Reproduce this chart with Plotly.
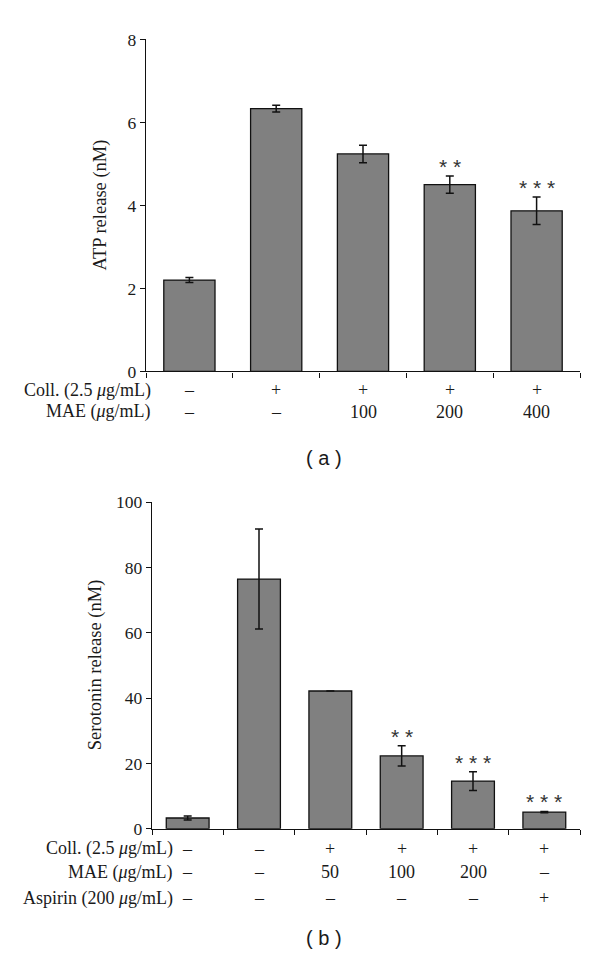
import plotly.graph_objects as go

# ---------------- data ----------------
# Panel (a)
a_values = [2.20, 6.33, 5.24, 4.50, 3.87]
a_errors = [0.06, 0.08, 0.21, 0.21, 0.33]
a_stars = ["", "", "", "* *", "* * *"]
a_coll = ["–", "+", "+", "+", "+"]
a_mae = ["–", "–", "100", "200", "400"]
a_yticks = [0, 2, 4, 6, 8]

# Panel (b)
b_values = [3.3, 76.5, 42.2, 22.3, 14.6, 5.1]
b_errors = [0.6, 15.3, 0.0, 3.1, 2.85, 0.2]
b_stars = ["", "", "", "* *", "* * *", "* * *"]
b_coll = ["–", "–", "+", "+", "+", "+"]
b_mae = ["–", "–", "50", "100", "200", "–"]
b_asp = ["–", "–", "–", "–", "–", "+"]
b_yticks = [0, 20, 40, 60, 80, 100]

SERIF = "Liberation Serif"
SANS = "Liberation Sans"
TXT = "#1a1a1a"
W, H = 600, 970


def py(px):
    return 1 - px / H


def pxx(px):
    return px / W


fig = go.Figure()

fig.add_trace(go.Bar(
    x=list(range(len(a_values))), y=a_values,
    error_y=dict(type="data", array=a_errors, visible=True, color="#111", thickness=1.5, width=4),
    marker=dict(color="#808080", line=dict(color="#111", width=1.3)),
    width=0.59, xaxis="x", yaxis="y", showlegend=False, hoverinfo="skip"))

fig.add_trace(go.Bar(
    x=list(range(len(b_values))), y=b_values,
    error_y=dict(type="data", array=b_errors, visible=True, color="#111", thickness=1.5, width=4),
    marker=dict(color="#808080", line=dict(color="#111", width=1.3)),
    width=0.6, xaxis="x2", yaxis="y2", showlegend=False, hoverinfo="skip"))

axis_common = dict(showgrid=False, zeroline=False, showline=True, linecolor="#111", linewidth=1.3,
                   ticks="outside", ticklen=5, tickwidth=1.3, tickcolor="#111",
                   tickfont=dict(family=SERIF, size=17.5, color=TXT))

fig.update_layout(
    width=W, height=H, margin=dict(l=0, r=0, t=0, b=0),
    paper_bgcolor="white", plot_bgcolor="white",
    xaxis=dict(domain=[pxx(146), pxx(580)], range=[-0.5, 4.5], anchor="y",
               tickvals=[-0.5, 0.5, 1.5, 2.5, 3.5, 4.5], ticktext=[""] * 6, **axis_common),
    yaxis=dict(domain=[py(369), py(30)], range=[0, 8], anchor="x",
               tickvals=a_yticks, **axis_common),
    xaxis2=dict(domain=[pxx(152), pxx(580)], range=[-0.5, 5.5], anchor="y2",
                tickvals=[-0.5, 0.5, 1.5, 2.5, 3.5, 4.5, 5.5], ticktext=[""] * 7, **axis_common),
    yaxis2=dict(domain=[py(836), py(502.7)], range=[0, 100], anchor="x2",
                tickvals=b_yticks, **axis_common),
)

ann = []
# y-axis titles
ann.append(dict(text="ATP release (nM)", x=pxx(100), y=py(199.5), xref="paper", yref="paper",
                textangle=-90, showarrow=False, xanchor="center", yanchor="middle",
                font=dict(family=SERIF, size=18.5, color=TXT)))
ann.append(dict(text="Serotonin release (nM)", x=pxx(95), y=py(669), xref="paper", yref="paper",
                textangle=-90, showarrow=False, xanchor="center", yanchor="middle",
                font=dict(family=SERIF, size=18.5, color=TXT)))

# significance stars
for i, s in enumerate(a_stars):
    if s:
        ann.append(dict(text=s, x=i, y=a_values[i] + a_errors[i], xref="x", yref="y",
                        showarrow=False, yanchor="bottom", yshift=-4,
                        font=dict(family=SANS, size=21, color="#333")))
for i, s in enumerate(b_stars):
    if s:
        ann.append(dict(text=s, x=i, y=b_values[i] + b_errors[i], xref="x2", yref="y2",
                        showarrow=False, yanchor="bottom", yshift=-4,
                        font=dict(family=SANS, size=21, color="#333")))

# row labels and column entries, panel (a)
rows_a = [("Coll. (2.5 <i>μ</i>g/mL)", a_coll, 388.3), ("MAE (<i>μ</i>g/mL)", a_mae, 410)]
for label, vals, ypx in rows_a:
    ann.append(dict(text=label, x=pxx(152), y=py(ypx), xref="paper", yref="paper",
                    showarrow=False, xanchor="right", yanchor="middle", borderpad=0,
                    font=dict(family=SERIF, size=18, color=TXT)))
    for i, v in enumerate(vals):
        ann.append(dict(text=v, x=i, y=py(ypx), xref="x", yref="paper",
                        showarrow=False, xanchor="center", yanchor="middle", borderpad=0,
                        font=dict(family=SERIF, size=18, color=TXT)))

# row labels and column entries, panel (b)
rows_b = [("Coll. (2.5 <i>μ</i>g/mL)", b_coll, 856.5), ("MAE (<i>μ</i>g/mL)", b_mae, 880.5),
          ("Aspirin (200 <i>μ</i>g/mL)", b_asp, 907)]
for label, vals, ypx in rows_b:
    ann.append(dict(text=label, x=pxx(174), y=py(ypx), xref="paper", yref="paper",
                    showarrow=False, xanchor="right", yanchor="middle", borderpad=0,
                    font=dict(family=SERIF, size=18, color=TXT)))
    for i, v in enumerate(vals):
        ann.append(dict(text=v, x=i, y=py(ypx), xref="x2", yref="paper",
                        showarrow=False, xanchor="center", yanchor="middle", borderpad=0,
                        font=dict(family=SERIF, size=18, color=TXT)))

# panel letters
ann.append(dict(text="( a )", x=pxx(324), y=py(457), xref="paper", yref="paper",
                showarrow=False, xanchor="center", yanchor="middle",
                font=dict(family=SANS, size=20, color=TXT)))
ann.append(dict(text="( b )", x=pxx(324), y=py(948), xref="paper", yref="paper",
                showarrow=False, xanchor="center", yanchor="middle",
                font=dict(family=SANS, size=20, color=TXT)))

fig.update_layout(annotations=ann)
fig.write_html("out.html", config={"displayModeBar": False},
               post_script="document.body.style.margin='0';document.body.style.overflow='hidden';")
